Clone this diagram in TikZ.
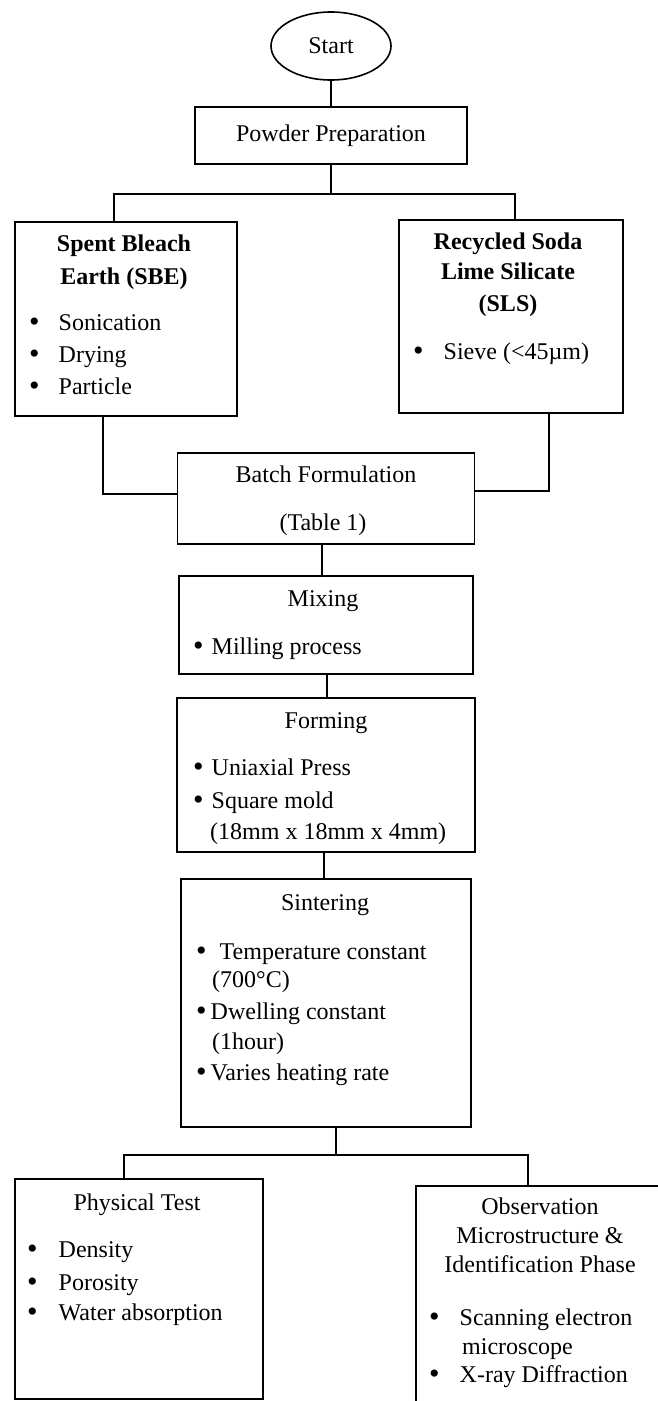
\documentclass[tikz,border=0pt]{standalone}
\usepackage{fontspec}
\setmainfont{Liberation Serif}
\usetikzlibrary{positioning,shapes.geometric}
\newcommand{\flowfont}{\fontsize{24}{28}\selectfont}
\newcommand{\bul}{{\fontsize{30}{30}\selectfont\raisebox{-1pt}{\textbullet}}}

\begin{document}
\begin{tikzpicture}[x=1pt,y=-1pt,
		box/.style={draw, line width=1.6pt, inner sep=0pt, font=\flowfont},
		lbl/.style={inner sep=0pt, anchor=mid, yshift=-5pt, font=\flowfont},
		ttl/.style={inner sep=0pt, anchor=mid, yshift=-5pt, font=\flowfont\bfseries},
		itm/.style={inner sep=0pt, anchor=mid west, yshift=-5pt, font=\flowfont},
		link/.style={line width=1.6pt}
	]
	\useasboundingbox (0,0) rectangle (658,1401);

	% Start and powder preparation
	\node[box, ellipse, minimum width=120, minimum height=68] (start) at (331,46) {Start};
	\node[box, minimum width=272, minimum height=57] (powder) at (331,135.5) {Powder Preparation};

	% Raw materials
	\node[box, anchor=north west, minimum width=222, minimum height=194] (sbe) at (14,221) {};
	\node[ttl] (sbeT1) at (124,244) {Spent Bleach};
	\node[ttl] (sbeT2) at (124,277) {Earth (SBE)};
	\node[itm] (sbeA) at (29,323) {\bul\hspace{19pt}Sonication};
	\node[itm] (sbeB) at (29,355) {\bul\hspace{19pt}Drying};
	\node[itm] (sbeC) at (29,387) {\bul\hspace{19pt}Particle};

	\node[box, anchor=north west, minimum width=224, minimum height=193] (sls) at (398,219) {};
	\node[ttl] (slsT1) at (508,242) {Recycled Soda};
	\node[ttl] (slsT2) at (508,272) {Lime Silicate};
	\node[ttl] (slsT3) at (508,304) {(SLS)};
	\node[itm] (slsA) at (413,352) {\bul\hspace{20pt}Sieve (<45µm)};

	% Process steps
	\node[box, anchor=north, minimum width=297, minimum height=91] (batch) at (326,452) {};
	\node[lbl] (batchT1) at (326,475) {Batch Formulation};
	\node[lbl] (batchT2) at (323,523) {(Table 1)};

	\node[box, anchor=north, minimum width=294, minimum height=98] (mixing) at (326,575) {};
	\node[lbl] (mixingT) at (323,599) {Mixing};
	\node[itm] (mixingA) at (193,647) {\bul\hspace{8pt}Milling process};

	\node[box, anchor=north, minimum width=298, minimum height=154] (forming) at (326,697) {};
	\node[lbl] (formingT) at (326,721) {Forming};
	\node[itm] (formingA) at (193,768) {\bul\hspace{8pt}Uniaxial Press};
	\node[itm] (formingB) at (193,801) {\bul\hspace{8pt}Square mold};
	\node[itm] (formingC) at (210,832) {(18mm x 18mm x 4mm)};

	\node[box, anchor=north, minimum width=290, minimum height=248] (sinter) at (326,878) {};
	\node[lbl] (sinterT) at (325,903) {Sintering};
	\node[itm] (sinterA) at (196,952) {\bul\hspace{13pt}Temperature constant};
	\node[itm] (sinterA2) at (212,980) {(700°C)};
	\node[itm] (sinterB) at (196,1012) {\bul\hspace{4pt}Dwelling constant};
	\node[itm] (sinterB2) at (212,1042) {(1hour)};
	\node[itm] (sinterC) at (196,1073) {\bul\hspace{4pt}Varies heating rate};

	% Characterisation
	\node[box, anchor=north west, minimum width=248, minimum height=220] (phys) at (14,1178) {};
	\node[lbl] (physT) at (137,1203) {Physical Test};
	\node[itm] (physA) at (27,1250) {\bul\hspace{21pt}Density};
	\node[itm] (physB) at (27,1283) {\bul\hspace{21pt}Porosity};
	\node[itm] (physC) at (27,1313) {\bul\hspace{21pt}Water absorption};

	\node[box, anchor=north west, minimum width=250, minimum height=240] (obs) at (415,1185) {};
	\node[lbl] (obsT1) at (540,1207) {Observation};
	\node[lbl] (obsT2) at (540,1236) {Microstructure \&};
	\node[lbl] (obsT3) at (540,1265) {Identification Phase};
	\node[itm] (obsA) at (429,1318) {\bul\hspace{20pt}Scanning electron};
	\node[itm] (obsA2) at (462,1347) {microscope};
	\node[itm] (obsB) at (429,1375) {\bul\hspace{20pt}X-ray Diffraction};

	% Connectors
	\coordinate (split1) at (331,194);
	\coordinate (split2) at (336,1155);
	\draw[link] (start) -- (powder);
	\draw[link] (powder) -- (split1);
	\draw[link] (split1) -| ([xshift=-12pt]sbe.north);
	\draw[link] (split1) -| ([xshift=4pt]sls.north);
	\draw[link] ([xshift=-23pt]sbe.south) |- ([yshift=4.5pt]batch.west);
	\draw[link] ([xshift=38pt]sls.south) |- ([yshift=7.5pt]batch.east);
	\draw[link] ([xshift=-4pt]batch.south) -- ([xshift=-4pt]batch.south |- mixing.north);
	\draw[link] ([xshift=1pt]mixing.south) -- ([xshift=1pt]mixing.south |- forming.north);
	\draw[link] ([xshift=-2pt]forming.south) -- ([xshift=-2pt]forming.south |- sinter.north);
	\draw[link] (sinter.south -| split2) -- (split2);
	\draw[link] (split2) -| ([xshift=-15pt]phys.north);
	\draw[link] (split2) -| ([xshift=-13pt]obs.north);
\end{tikzpicture}
\end{document}
